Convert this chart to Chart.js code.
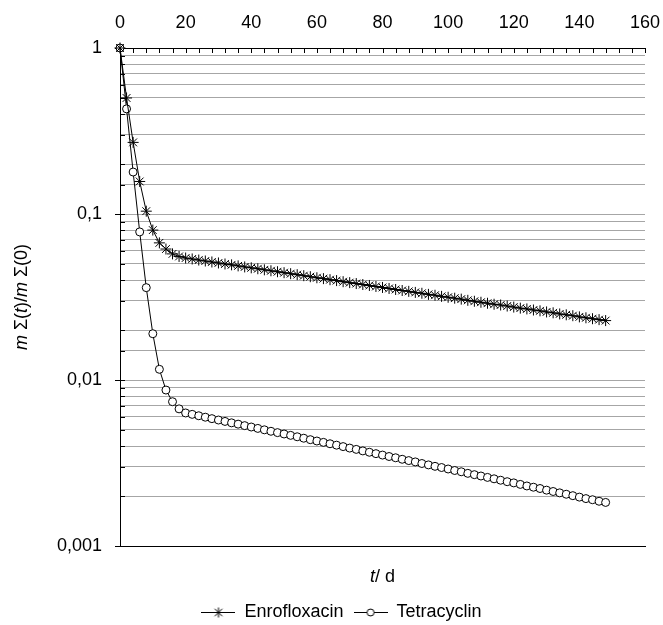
<!DOCTYPE html>
<html>
<head>
<meta charset="utf-8">
<script src="https://cdn.jsdelivr.net/npm/chart.js@4.4.1/dist/chart.umd.min.js"></script>
<style>
  html, body { margin: 0; padding: 0; background: #fff; }
</style>
</head>
<body>
<canvas id="chart" width="663" height="625"></canvas>
<script>
// sampling days (every 2 days)
const days = [0, 2, 4, 6, 8, 10, 12, 14, 16, 18,
  20, 22, 24, 26, 28, 30, 32, 34, 36, 38, 40, 42, 44, 46, 48, 50, 52, 54, 56, 58,
  60, 62, 64, 66, 68, 70, 72, 74, 76, 78, 80, 82, 84, 86, 88, 90, 92, 94, 96, 98,
  100, 102, 104, 106, 108, 110, 112, 114, 116, 118, 120, 122, 124, 126, 128, 130,
  132, 134, 136, 138, 140, 142, 144, 146, 148];

// m_sum(t) / m_sum(0)
const enrofloxacin = [1, 0.5, 0.27, 0.157, 0.104, 0.080, 0.067, 0.0615, 0.0575, 0.0555,
  0.0543, 0.0536, 0.0528, 0.0521, 0.0514, 0.0507, 0.0500, 0.0494, 0.0487, 0.0480,
  0.0474, 0.0468, 0.0461, 0.0455, 0.0449, 0.0443, 0.0437, 0.0431, 0.0425, 0.0419,
  0.0413, 0.0408, 0.0402, 0.0397, 0.0391, 0.0386, 0.0381, 0.0376, 0.0371, 0.0366,
  0.0361, 0.0356, 0.0351, 0.0346, 0.0342, 0.0337, 0.0333, 0.0328, 0.0324, 0.0319,
  0.0315, 0.0311, 0.0307, 0.0302, 0.0298, 0.0294, 0.0290, 0.0286, 0.0283, 0.0279,
  0.0275, 0.0271, 0.0268, 0.0264, 0.0261, 0.0257, 0.0254, 0.0250, 0.0247, 0.0244,
  0.0240, 0.0237, 0.0234, 0.0231, 0.0228];

const tetracyclin = [1, 0.43, 0.179, 0.078, 0.036, 0.019, 0.0116, 0.0087, 0.0074, 0.0067,
  0.00633, 0.00621, 0.00609, 0.00597, 0.00585, 0.00574, 0.00563, 0.00552, 0.00542, 0.00531,
  0.00521, 0.00511, 0.00501, 0.00491, 0.00482, 0.00473, 0.00464, 0.00455, 0.00446, 0.00437,
  0.00429, 0.00421, 0.00413, 0.00405, 0.00397, 0.00389, 0.00382, 0.00374, 0.00367, 0.00360,
  0.00353, 0.00346, 0.00340, 0.00333, 0.00327, 0.00321, 0.00314, 0.00308, 0.00302, 0.00297,
  0.00291, 0.00285, 0.00280, 0.00274, 0.00269, 0.00264, 0.00259, 0.00254, 0.00249, 0.00244,
  0.00240, 0.00235, 0.00230, 0.00226, 0.00222, 0.00217, 0.00213, 0.00209, 0.00205, 0.00201,
  0.00197, 0.00193, 0.00190, 0.00186, 0.00183];

const seriesNames = ['Enrofloxacin', 'Tetracyclin'];
const xMin = 0, xMax = 160, xStep = 20, xMinorStep = 4;
const yMin = 0.001, yMax = 1;

const FONT = "'Liberation Sans', Arial, sans-serif";
const FONT_SIZE = 18;

function toPoints(ys) {
    return days.map((d, i) => ({ x: d, y: ys[i] }));
}

function isDecade(v) {
    const e = Math.log10(v);
    return Math.abs(e - Math.round(e)) < 1e-6;
}

function decadeLabel(v) {
    const e = Math.round(Math.log10(v));
    if (e >= 0) return String(Math.pow(10, e));
    return '0,' + '0'.repeat(-e - 1) + '1';
}

// small legend icons: line with marker in the middle
function legendIcon(kind) {
    const c = document.createElement('canvas');
    c.width = 34; c.height = 12;
    const g = c.getContext('2d');
    g.strokeStyle = '#000';
    g.lineWidth = 1;
    g.beginPath();
    g.moveTo(0, 6.5); g.lineTo(34, 6.5);
    g.stroke();
    if (kind === 'star') {
        const r = 5;
        g.beginPath();
        g.moveTo(17, 6.5 - r); g.lineTo(17, 6.5 + r);
        g.moveTo(17 - r * 0.75, 6.5 - r * 0.75); g.lineTo(17 + r * 0.75, 6.5 + r * 0.75);
        g.moveTo(17 - r * 0.75, 6.5 + r * 0.75); g.lineTo(17 + r * 0.75, 6.5 - r * 0.75);
        g.stroke();
    } else {
        g.beginPath();
        g.arc(17, 6.5, 3.5, 0, Math.PI * 2);
        g.fillStyle = '#fff';
        g.fill();
        g.stroke();
    }
    return c;
}
const legendIcons = [legendIcon('star'), legendIcon('circle')];

// inner tick marks on the top and left axes, axis titles
const axisDecor = {
    id: 'axisDecor',
    beforeDatasetsDraw(chart) {
        const { ctx, chartArea } = chart;
        const xs = chart.scales.x;
        const ys = chart.scales.y;
        ctx.save();
        ctx.strokeStyle = '#000';
        ctx.lineWidth = 1;
        ctx.beginPath();
        for (let v = xMin; v <= xMax; v += xMinorStep) {
            const px = Math.round(xs.getPixelForValue(v)) + 0.5;
            ctx.moveTo(px, chartArea.top);
            ctx.lineTo(px, chartArea.top + 5);
        }
        ys.ticks.forEach(t => {
            const py = Math.round(ys.getPixelForValue(t.value)) + 0.5;
            const major = isDecade(t.value);
            ctx.moveTo(chartArea.left - (major ? 5 : 0), py);
            ctx.lineTo(chartArea.left + 5, py);
        });
        ctx.stroke();
        ctx.restore();
    },
    afterDraw(chart) {
        const { ctx, chartArea } = chart;
        const normal = FONT_SIZE + 'px ' + FONT;
        const italic = 'italic ' + FONT_SIZE + 'px ' + FONT;

        function drawParts(parts, cx, cy) {
            let total = 0;
            parts.forEach(p => { ctx.font = p[1] ? italic : normal; total += ctx.measureText(p[0]).width; });
            let x = cx - total / 2;
            parts.forEach(p => {
                ctx.font = p[1] ? italic : normal;
                ctx.fillText(p[0], x, cy);
                x += ctx.measureText(p[0]).width;
            });
        }

        ctx.save();
        ctx.fillStyle = '#000';
        ctx.textBaseline = 'middle';
        ctx.textAlign = 'left';
        // x title
        drawParts([['t', true], ['/ d', false]], (chartArea.left + chartArea.right) / 2, 577);
        // y title
        ctx.translate(22, (chartArea.top + chartArea.bottom) / 2);
        ctx.rotate(-Math.PI / 2);
        drawParts([['m', true], [' Σ(', false], ['t', true], [')/', false], ['m', true], [' Σ(0)', false]], 0, 0);
        ctx.restore();
    }
};

const ctx = document.getElementById('chart');

new Chart(ctx, {
    type: 'line',
    data: {
        datasets: [
            {
                label: seriesNames[0],
                data: toPoints(enrofloxacin),
                borderColor: '#000',
                borderWidth: 1,
                pointStyle: 'star',
                pointRadius: 5.5,
                pointBorderColor: '#000',
                pointBackgroundColor: '#000',
                pointBorderWidth: 1,
                tension: 0,
                clip: false
            },
            {
                label: seriesNames[1],
                data: toPoints(tetracyclin),
                borderColor: '#000',
                borderWidth: 1,
                pointStyle: 'circle',
                pointRadius: 4,
                pointBorderColor: '#000',
                pointBackgroundColor: '#fff',
                pointBorderWidth: 1,
                tension: 0,
                clip: false
            }
        ]
    },
    options: {
        responsive: false,
        animation: false,
        devicePixelRatio: 1,
        layout: { padding: { left: 38, right: 18, top: 0, bottom: -6 } },
        scales: {
            x: {
                type: 'linear',
                position: 'top',
                min: xMin,
                max: xMax,
                ticks: {
                    stepSize: xStep,
                    color: '#000',
                    padding: 14,
                    font: { family: FONT, size: FONT_SIZE }
                },
                grid: { drawOnChartArea: false, drawTicks: false },
                border: { display: true, color: '#000', width: 1 },
                afterFit(s) { s.height = 48; s.paddingLeft = 0; s.paddingRight = 0; }
            },
            xb: {
                type: 'linear',
                position: 'bottom',
                min: xMin,
                max: xMax,
                ticks: { display: false },
                grid: { display: false, drawTicks: false },
                border: { display: true, color: '#000', width: 1 },
                afterFit(s) { s.height = 47; s.paddingLeft = 0; s.paddingRight = 0; }
            },
            y: {
                type: 'logarithmic',
                position: 'left',
                min: yMin,
                max: yMax,
                ticks: {
                    autoSkip: false,
                    color: '#000',
                    padding: 18,
                    font: { family: FONT, size: FONT_SIZE },
                    callback: (v) => isDecade(v) ? decadeLabel(v) : ''
                },
                grid: { color: '#a6a6a6', lineWidth: 1, drawTicks: false },
                border: { display: true, color: '#000', width: 1 },
                afterFit(s) { s.width = 82; s.paddingTop = 0; s.paddingBottom = 0; }
            }
        },
        plugins: {
            legend: {
                position: 'bottom',
                labels: {
                    usePointStyle: true,
                    pointStyleWidth: 34,
                    color: '#000',
                    padding: 10,
                    font: { family: FONT, size: FONT_SIZE },
                    generateLabels: (chart) => chart.data.datasets.map((ds, i) => ({
                        text: ds.label,
                        pointStyle: legendIcons[i],
                        fillStyle: '#fff',
                        strokeStyle: '#000',
                        lineWidth: 0,
                        hidden: false,
                        datasetIndex: i
                    }))
                }
            },
            tooltip: { enabled: false }
        }
    },
    plugins: [axisDecor]
});
</script>
</body>
</html>
